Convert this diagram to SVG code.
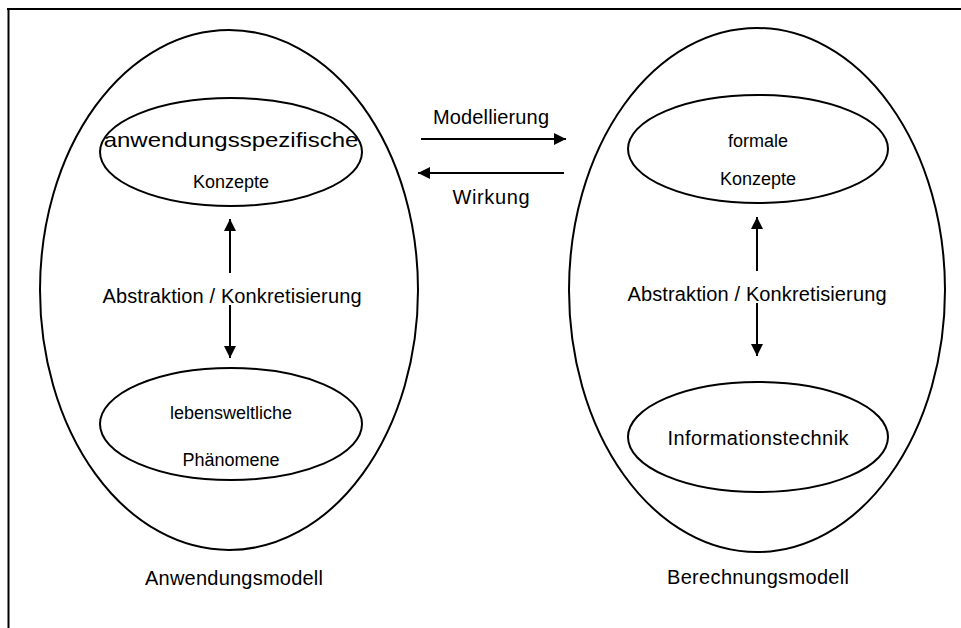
<svg xmlns="http://www.w3.org/2000/svg" width="961" height="628" viewBox="0 0 961 628">
<style>
.frame{stroke:#000;stroke-width:2;fill:none}
.big{stroke:#000;stroke-width:2;fill:none}
.small{stroke:#000;stroke-width:2;fill:none}
.ln{stroke:#000;stroke-width:2;fill:none}
text{font-family:"Liberation Sans",Arial,sans-serif;font-size:18px;fill:#000;text-anchor:middle}
.lg{font-size:20px}
</style>
<defs>
<marker id="ah" viewBox="0 0 12 12" refX="12" refY="6" markerWidth="12" markerHeight="12" markerUnits="userSpaceOnUse" orient="auto">
<path d="M0,0 L12,6 L0,12 Z" fill="#000"/>
</marker>
</defs>
<rect width="961" height="628" fill="#fff"/>
<g id="frame">
<line class="frame" x1="7" y1="9" x2="961" y2="9"/>
<line class="frame" x1="8.5" y1="8" x2="8.5" y2="628"/>
</g>
<g id="anwendungsmodell">
<ellipse class="big" cx="229" cy="290" rx="189" ry="260"/>
<text class="lg" x="234" y="585" textLength="178" lengthAdjust="spacing">Anwendungsmodell</text>
</g>
<g id="berechnungsmodell">
<ellipse class="big" cx="757" cy="290" rx="188" ry="262"/>
<text class="lg" x="758" y="584" textLength="182" lengthAdjust="spacing">Berechnungsmodell</text>
</g>
<g id="anwendungskonzepte">
<ellipse class="small" cx="231" cy="152" rx="131" ry="54"/>
<text class="lg" transform="translate(231,147) scale(1.2,1)" x="0" y="0">anwendungsspezifische</text>
<text x="231" y="188">Konzepte</text>
</g>
<g id="phaenomene">
<ellipse class="small" cx="231" cy="424" rx="131" ry="56"/>
<text x="231" y="419">lebensweltliche</text>
<text x="231" y="466">Phänomene</text>
</g>
<g id="formalekonzepte">
<ellipse class="small" cx="758" cy="149" rx="130" ry="54"/>
<text x="758" y="147">formale</text>
<text x="758" y="185">Konzepte</text>
</g>
<g id="informationstechnik">
<ellipse class="small" cx="758" cy="437" rx="130" ry="55"/>
<text class="lg" x="758" y="445" textLength="181" lengthAdjust="spacing">Informationstechnik</text>
</g>
<g id="connectors">
<line class="ln" x1="421" y1="139" x2="566" y2="139" marker-end="url(#ah)"/>
<line class="ln" x1="564" y1="173" x2="418" y2="173" marker-end="url(#ah)"/>
<line class="ln" x1="230" y1="273" x2="230" y2="219" marker-end="url(#ah)"/>
<line class="ln" x1="230" y1="305" x2="230" y2="358" marker-end="url(#ah)"/>
<line class="ln" x1="757" y1="271" x2="757" y2="217" marker-end="url(#ah)"/>
<line class="ln" x1="757" y1="303" x2="757" y2="356" marker-end="url(#ah)"/>
<text class="lg" x="491" y="124" textLength="116" lengthAdjust="spacing">Modellierung</text>
<text class="lg" x="491" y="204" textLength="77" lengthAdjust="spacing">Wirkung</text>
<text class="lg" x="232" y="303" textLength="259" lengthAdjust="spacing">Abstraktion / Konkretisierung</text>
<text class="lg" x="757" y="301" textLength="259" lengthAdjust="spacing">Abstraktion / Konkretisierung</text>
</g>
</svg>
